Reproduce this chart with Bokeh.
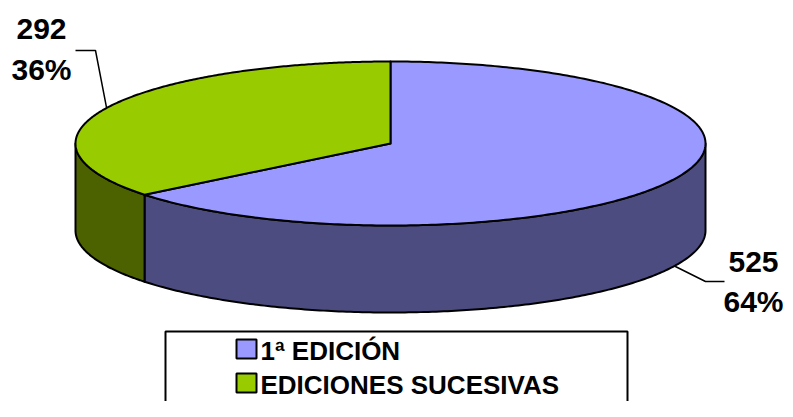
import numpy as np
from bokeh.plotting import figure
from bokeh.models import Range1d
from bokeh.embed import file_html
from bokeh.resources import INLINE
from bokeh.core.properties import value

# ---- data ----
categories = ["1ª EDICIÓN", "EDICIONES SUCESIVAS"]
counts = [525, 292]
top_colors = ["#9999FF", "#99CC00"]
side_colors = ["#4C4C80", "#4C6100"]

# ---- layout (pixel coordinates from the figure's top-left corner) ----
W, H = 785, 401
cx, cy, rx, ry, depth = 390, 143, 315, 82, 87
label_elbows = [(705, 281), (95, 50)]
label_ends = [(724, 281), (75, 50)]
label_centers = [(753, 261, 301), (41, 28, 69)]
FONT = value("Liberation Sans")

p = figure(width=W, height=H, output_backend="svg", toolbar_location=None,
           x_range=Range1d(0, W), y_range=Range1d(H, 0),
           x_axis_location=None, y_axis_location=None, min_border=0)
p.grid.visible = False
p.outline_line_color = None
p.background_fill_color = "white"
p.border_fill_color = "white"

total = float(sum(counts))
fracs = [c / total for c in counts]


def ex(t):
    return cx + rx * np.cos(t)


def ey(t):
    return cy - ry * np.sin(t)


slices = []
start = np.pi / 2
for f in fracs:
    t0 = start
    t1 = start - f * 2 * np.pi
    slices.append((t0, t1))
    start = t1

# sides (front half: sin(t) < 0)
for i, (t0, t1) in enumerate(slices):
    for k in range(-2, 2):
        a = max(t1, 2 * np.pi * k - np.pi)
        b = min(t0, 2 * np.pi * k)
        if b > a:
            ts = np.linspace(a, b, 200)
            xs = list(ex(ts)) + list(ex(ts[::-1]))
            ys = list(ey(ts)) + list(ey(ts[::-1]) + depth)
            p.patch(xs, ys, fill_color=side_colors[i], line_color="black",
                    line_width=2, line_join="round")

# top faces
for i, (t0, t1) in enumerate(slices):
    ts = np.linspace(t0, t1, 300)
    xs = [cx] + list(ex(ts)) + [cx]
    ys = [cy] + list(ey(ts)) + [cy]
    p.patch(xs, ys, fill_color=top_colors[i], line_color="black",
            line_width=2, line_join="round")

# data labels with leader lines
for i, (t0, t1) in enumerate(slices):
    m = (t0 + t1) / 2
    ax, ay = ex(m), ey(m)
    if np.sin(m) < 0:
        ay += depth
    (bx, by), (qx, qy) = label_elbows[i], label_ends[i]
    p.line([ax, bx, qx], [ay, by, qy], line_color="black", line_width=1.5)
    lx, y1, y2 = label_centers[i]
    pct = "%d%%" % round(fracs[i] * 100)
    p.text(x=[lx, lx], y=[y1, y2], text=[str(counts[i]), pct],
           text_font=FONT, text_font_style="bold", text_font_size="30px",
           text_align="center", text_baseline="alphabetic", text_color="black")

# legend
p.quad(left=[165], right=[627], top=[331], bottom=[430],
       fill_color="white", line_color="black", line_width=2)
p.quad(left=[236, 236], right=[256, 256], top=[339, 373], bottom=[358, 392],
       fill_color=top_colors, line_color="black", line_width=2)
p.text(x=[260, 260], y=[350, 384], text=categories,
       text_font=FONT, text_font_style="bold", text_font_size="26px",
       text_align="left", text_baseline="alphabetic", text_color="black")

open("out.html", "w").write(file_html(p, INLINE))
